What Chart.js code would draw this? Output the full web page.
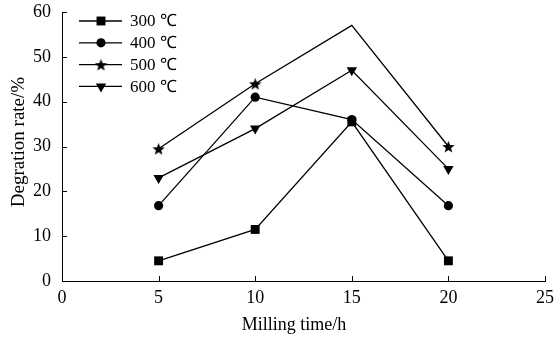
<!DOCTYPE html>
<html>
<head>
<meta charset="utf-8">
<script src="https://cdn.jsdelivr.net/npm/chart.js@4/dist/chart.umd.min.js"></script>
<style>
  body { margin: 0; background: #fff; }
  #wrap { width: 557px; height: 337px; }
</style>
</head>
<body>
<div id="wrap"><canvas id="myChart"></canvas></div>
<script>
const hours = [5, 10, 15, 20];
const rate300 = [4.5, 11.5, 35.5, 4.5];
const rate400 = [16.8, 41, 36, 16.8];
const rate500 = [29.5, 44, 57, 30];
const rate600 = [23, 34, 47, 25];
const seriesLabels = ['300 \u2103', '400 \u2103', '500 \u2103', '600 \u2103'];
const xTicks = [0, 5, 10, 15, 20, 25];
const yTicks = [0, 10, 20, 30, 40, 50, 60];
const xTitle = 'Milling time/h';
const yTitle = 'Degration rate/%';

const serif = "'Liberation Serif', 'Times New Roman', serif";

// filled five-point star for the 500 C series
function makeStar(size) {
    const c = document.createElement('canvas');
    c.width = size; c.height = size;
    const g = c.getContext('2d');
    const cx = size / 2, cy = size / 2 + 0.8, R = size / 2, r = R * 0.42;
    g.beginPath();
    for (let i = 0; i < 10; i++) {
        const rad = i % 2 === 0 ? R : r;
        const a = -Math.PI / 2 + i * Math.PI / 5;
        g.lineTo(cx + rad * Math.cos(a), cy + rad * Math.sin(a));
    }
    g.closePath();
    g.fillStyle = '#000';
    g.fill();
    return c;
}
const star = makeStar(13);

function pts(ys) {
    return hours.map((h, i) => ({x: h, y: ys[i]}));
}

const styles = [
    {pointStyle: 'rect', radius: 6.3, rotation: 0},
    {pointStyle: 'circle', radius: 4.6, rotation: 0},
    {pointStyle: star, radius: 6, rotation: 0},
    {pointStyle: 'triangle', radius: 6, rotation: 180}
];
const values = [rate300, rate400, rate500, rate600];

const data = values.map((v, i) => ({
    label: seriesLabels[i],
    data: pts(v),
    borderColor: '#000',
    backgroundColor: '#000',
    borderWidth: 1.3,
    pointStyle: styles[i].pointStyle,
    pointRotation: styles[i].rotation,
    pointRadius: i === 2 ? [6, 6, 0, 6] : styles[i].radius,
    pointBorderWidth: 0,
    pointBackgroundColor: '#000',
    tension: 0
}));

// inward ticks on both axes
const innerTicks = {
    id: 'innerTicks',
    afterDraw(chart) {
        const {ctx, chartArea, scales} = chart;
        ctx.save();
        ctx.strokeStyle = '#000';
        ctx.lineWidth = 1;
        ctx.beginPath();
        xTicks.forEach(t => {
            const x = Math.round(scales.x.getPixelForValue(t)) + 0.5;
            ctx.moveTo(x, chartArea.bottom);
            ctx.lineTo(x, chartArea.bottom - 5);
        });
        yTicks.forEach(t => {
            const y = Math.round(scales.y.getPixelForValue(t)) + 0.5;
            ctx.moveTo(chartArea.left, y);
            ctx.lineTo(chartArea.left + 5, y);
        });
        ctx.stroke();
        ctx.restore();
    }
};

// axis titles placed where the original has them
const axisTitles = {
    id: 'axisTitles',
    afterDraw(chart) {
        const ctx = chart.ctx;
        ctx.save();
        ctx.fillStyle = '#000';
        ctx.font = '18px ' + serif;
        ctx.textAlign = 'center';
        ctx.textBaseline = 'middle';
        ctx.fillText(xTitle, 294, 325);
        ctx.translate(19, 142);
        ctx.rotate(-Math.PI / 2);
        ctx.font = '19px ' + serif;
        ctx.fillText(yTitle, 0, 0);
        ctx.restore();
    }
};

// legend drawn inside the plot, line with marker in the middle
const insideLegend = {
    id: 'insideLegend',
    afterDraw(chart) {
        const ctx = chart.ctx;
        ctx.save();
        chart.data.datasets.forEach((ds, i) => {
            const y = 21 + i * 21.8;
            ctx.strokeStyle = '#000';
            ctx.lineWidth = 1.3;
            ctx.beginPath();
            ctx.moveTo(79, y);
            ctx.lineTo(122, y);
            ctx.stroke();
            Chart.helpers.drawPoint(ctx, {
                pointStyle: styles[i].pointStyle,
                radius: styles[i].radius,
                rotation: styles[i].rotation,
                borderWidth: 0
            }, 101, y);
            ctx.fillStyle = '#000';
            ctx.font = '17px ' + serif;
            ctx.textBaseline = 'middle';
            ctx.fillText(ds.label, 130, y + 1);
        });
        ctx.restore();
    }
};

const ctx = document.getElementById('myChart').getContext('2d');
const myChart = new Chart(ctx, {
    type: 'line',
    data: { datasets: data },
    options: {
        responsive: true,
        maintainAspectRatio: false,
        animation: false,
        layout: { padding: { top: 12, right: 12, left: 0, bottom: 0 } },
        plugins: {
            legend: { display: false },
            tooltip: { enabled: false }
        },
        scales: {
            x: {
                type: 'linear',
                min: 0, max: 25,
                afterBuildTicks: s => { s.ticks = xTicks.map(v => ({value: v})); },
                grid: { display: false, drawTicks: false },
                border: { color: '#000', width: 1 },
                ticks: { color: '#000', padding: 6, font: { family: serif, size: 18 }, maxRotation: 0 },
                afterFit: s => { s.height = 56; s.paddingLeft = 0; s.paddingRight = 0; }
            },
            y: {
                min: 0, max: 60,
                afterBuildTicks: s => { s.ticks = yTicks.map(v => ({value: v})); },
                grid: { display: false, drawTicks: false },
                border: { color: '#000', width: 1 },
                ticks: { color: '#000', padding: 11, font: { family: serif, size: 18 } },
                afterFit: s => { s.width = 62; s.paddingTop = 0; s.paddingBottom = 0; }
            }
        }
    },
    plugins: [innerTicks, axisTitles, insideLegend]
});
</script>
</body>
</html>
